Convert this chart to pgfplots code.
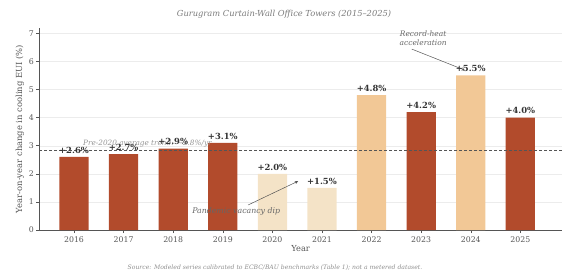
\documentclass[border=0pt]{standalone}
\usepackage{pgfplots}
\pgfplotsset{compat=1.18}
\usepackage{fontspec}
\setmainfont{DejaVu Serif}
\definecolor{rust}{HTML}{B24B2C}
\definecolor{peach}{HTML}{F2C896}
\definecolor{pale}{HTML}{F4E3C7}
\definecolor{axgray}{HTML}{555555}
\definecolor{txtgray}{HTML}{7A7A7A}
\begin{document}
\begin{tikzpicture}
\useasboundingbox (0pt,0pt) rectangle (563pt,-278pt);
\node[font=\fontsize{8.3}{9}\selectfont\itshape, text=txtgray] at (284pt,-14pt) {Gurugram Curtain-Wall Office Towers (2015–2025)};
\node[font=\fontsize{6.1}{7}\selectfont\itshape, text=txtgray!85] at (275pt,-268pt) {Source: Modeled series calibrated to ECBC/BAU benchmarks (Table 1); not a metered dataset.};
\begin{axis}[
  at={(39.3pt,-230pt)}, anchor=south west,
  scale only axis, width=522.7pt, height=202pt,
  xmin=-0.7, xmax=9.84, ymin=0, ymax=7.19,
  axis x line*=bottom, axis y line*=left,
  axis line style={axgray, line width=0.6pt},
  xtick={0,...,9},
  xticklabels={2016,2017,2018,2019,2020,2021,2022,2023,2024,2025},
  ytick={0,...,7},
  tick style={axgray, line width=0.5pt},
  major tick length=3pt,
  tick align=outside,
  ymajorgrids, grid style={gray!15, line width=0.4pt},
  xmajorgrids=false,
  ticklabel style={font=\fontsize{7.8}{8}\selectfont, text=axgray},
  yticklabel style={xshift=1pt},
  /pgf/number format/assume math mode=true,
  xlabel={Year}, xlabel style={font=\fontsize{8.3}{9}\selectfont, text=axgray, yshift=4pt},
  ylabel={Year-on-year change in cooling EUI (\%)}, ylabel style={font=\fontsize{8.4}{9}\selectfont, text=axgray, yshift=-2pt},
  ybar, bar width=0.59, bar shift=0pt,
  nodes near coords={+\pgfmathprintnumber[fixed,precision=1,fixed zerofill]{\pgfplotspointmeta}\%},
  every node near coord/.append style={font=\fontsize{8.4}{9}\selectfont\bfseries, text=black!80, yshift=0pt},
  clip=false,
]
\addplot[fill=rust, draw=none] coordinates {(0,2.6) (1,2.7) (2,2.9) (3,3.1) (7,4.2) (9,4.0)};
\addplot[fill=pale, draw=none] coordinates {(4,2.0) (5,1.5)};
\addplot[fill=peach, draw=none] coordinates {(6,4.8) (8,5.5)};
\addplot[sharp plot, no marks, nodes near coords={}, draw=axgray, line width=0.7pt, dash pattern=on 3pt off 2pt] coordinates {(-0.7,2.825) (9.84,2.825)};
\node[font=\fontsize{7.3}{8}\selectfont\itshape, text=txtgray!80] at (axis cs:1.48,3.06) {Pre-2020 average trend: \textasciitilde2.8\%/yr};
\node[font=\fontsize{7.8}{8}\selectfont\itshape, text=axgray!90] at (axis cs:3.27,0.65) {Pandemic vacancy dip};
\draw[-stealth, axgray, line width=0.5pt] (axis cs:3.51,0.89) -- (axis cs:4.52,1.74);
\node[font=\fontsize{7.5}{8.5}\selectfont\itshape, text=axgray!90, align=center] at (axis cs:7.04,6.82) {Record-heat\\acceleration};
\draw[-stealth, axgray, line width=0.5pt] (axis cs:6.81,6.44) -- (axis cs:7.88,5.69);
\end{axis}
\end{tikzpicture}
\end{document}
